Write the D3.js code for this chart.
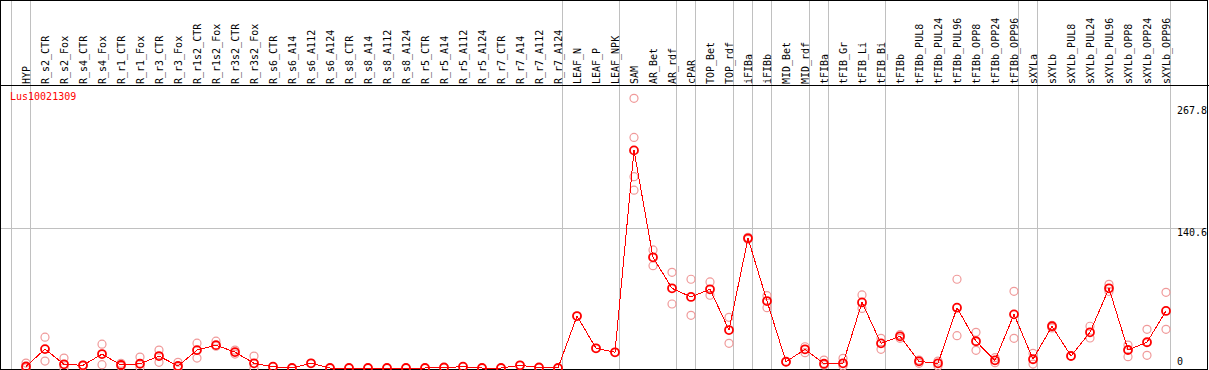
<!DOCTYPE html>
<html>
<head>
<meta charset="UTF-8">
<title></title>
<script src="https://cdn.jsdelivr.net/npm/d3@7"></script>
<style>
    body { margin: 0; background: #fff; }
    text { font-family: "DejaVu Sans Mono", monospace; font-size: 10px; }
</style>
</head>
<body>
<div id="chart"></div>
<script>
    var geneName = 'Lus10021309';

    var samples = ['HYP', 'R_s2_CTR', 'R_s2_Fox', 'R_s4_CTR', 'R_s4_Fox', 'R_r1_CTR', 'R_r1_Fox',
        'R_r3_CTR', 'R_r3_Fox', 'R_r1s2_CTR', 'R_r1s2_Fox', 'R_r3s2_CTR', 'R_r3s2_Fox', 'R_s6_CTR',
        'R_s6_A14', 'R_s6_A112', 'R_s6_A124', 'R_s8_CTR', 'R_s8_A14', 'R_s8_A112', 'R_s8_A124',
        'R_r5_CTR', 'R_r5_A14', 'R_r5_A112', 'R_r5_A124', 'R_r7_CTR', 'R_r7_A14', 'R_r7_A112',
        'R_r7_A124', 'LEAF_N', 'LEAF_P', 'LEAF_NPK', 'SAM', 'AR_Bet', 'AR_rdf', 'cPAR', 'TOP_Bet',
        'TOP_rdf', 'iFIBa', 'iFIBb', 'MID_Bet', 'MID_rdf', 'tFIBa', 'tFIB_Gr', 'tFIB_Li', 'tFIB_Bi',
        'tFIBb', 'tFIBb_PUL8', 'tFIBb_PUL24', 'tFIBb_PUL96', 'tFIBb_OPP8', 'tFIBb_OPP24', 'tFIBb_OPP96',
        'sXYLa', 'sXYLb', 'sXYLb_PUL8', 'sXYLb_PUL24', 'sXYLb_PUL96', 'sXYLb_OPP8', 'sXYLb_OPP24', 'sXYLb_OPP96'];

    // mean expression per sample
    var means = [1.5, 19, 3.7, 2.7, 14, 3, 4.3, 12, 2, 18, 23, 16, 4.7, 1.3,
        0, 4.7, 0, 0, 0, 0, 0, 0, 0.5, 1.3, 0, 0, 2.7, 0.5, 0,
        52.3, 19.8, 15.8, 219, 111.4, 80.2, 71.5, 79.2, 38.2, 130.5, 67.4, 6.3, 18.8,
        4.3, 4.7, 66, 24.8, 31.9, 6.7, 4.7, 60.7, 26.9, 7.7, 54,
        8.8, 42, 12.1, 35.9, 80.2, 18.1, 25.9, 57.4];

    // individual replicates per sample
    var replicates = [[5, 0], [31, 7], [10, 0], [3, 2], [24, 3.3], [4.7, 1.5], [11, 0.5],
        [18, 5.7], [5.7, 0], [25, 10], [27, 22], [18, 14], [12, 0], [1.3],
        [0], [4.7], [0], [0], [0], [0], [0], [0], [0.5], [1.3], [0], [0], [2.7], [0.5], [0],
        [52.3], [19.8], [15.8], [271.4, 232, 192.5, 179], [118.8, 103], [96.3, 64.4], [89.3, 53],
        [86.6, 73.2], [51, 24.8], [131.5, 129.5], [72.8, 60.7], [6.3], [21.4, 15.4],
        [8, 3], [9.7, 2], [73.5, 60], [29.9, 18.8], [29.9, 33.5], [4.7, 8], [7, 2], [89.3, 32.5],
        [35.9, 17.8], [10.4, 5.4], [77.2, 29.9], [14.8, 4], [40.3, 43], [12.1], [42, 30.2],
        [84.2, 77], [23.1, 11.4], [38.9, 12.8], [76.2, 38.9]];

    // first sample of each tissue group (separator lines)
    var groupStarts = ['HYP', 'R_s2_CTR', 'LEAF_N', 'SAM', 'cPAR', 'TOP_Bet', 'iFIBa', 'iFIBb',
        'MID_Bet', 'tFIBa', 'tFIB_Gr', 'tFIBb', 'sXYLa', 'sXYLb'];

    var yLabels = [0, 140.6, 267.8];
    var yGrid = [140.6];

    var width = 1209, height = 370;
    var headerBottom = 85, plotBottom = 368;

    var svg = d3.select('#chart').append('svg')
        .attr('width', width)
        .attr('height', height);

    var x = d3.scaleBand()
        .domain(samples)
        .range([11, 11 + 19 * samples.length]);
    var px = function (s) { return x(s) + 15; };

    var y = d3.scaleLinear()
        .domain([0, 284.8])
        .range([plotBottom, headerBottom]);

    // horizontal grid
    svg.selectAll('.hgrid')
        .data(yGrid)
        .enter()
        .append('line')
        .attr('x1', 0).attr('x2', width - 1)
        .attr('y1', function (d) { return Math.round(y(d)) + 0.5; })
        .attr('y2', function (d) { return Math.round(y(d)) + 0.5; })
        .style('stroke', '#c0c0c0');

    // group separators
    var seps = groupStarts.map(function (s) { return x(s); });
    seps.push(x.range()[1]);
    svg.selectAll('.vsep')
        .data(seps)
        .enter()
        .append('line')
        .attr('x1', function (d) { return Math.round(d) + 0.5; })
        .attr('x2', function (d) { return Math.round(d) + 0.5; })
        .attr('y1', 0).attr('y2', height)
        .style('stroke', '#c0c0c0');

    // frame
    svg.append('rect')
        .attr('x', 0.5).attr('y', 0.5)
        .attr('width', width - 2).attr('height', height - 1)
        .style('fill', 'none').style('stroke', '#000');
    svg.append('line')
        .attr('x1', 0).attr('x2', width)
        .attr('y1', headerBottom + 0.5).attr('y2', headerBottom + 0.5)
        .style('stroke', '#000');

    // sample labels
    svg.selectAll('.slabel')
        .data(samples)
        .enter()
        .append('text')
        .attr('transform', function (d) {
            return 'translate(' + (px(d) + 3.5) + ',' + (headerBottom - 1) + ') rotate(-90)';
        })
        .text(function (d) { return d; })
        .style('fill', '#000');

    // y labels
    svg.selectAll('.ylabel')
        .data(yLabels)
        .enter()
        .append('text')
        .attr('x', 1177)
        .attr('y', function (d) {
            return Math.max(Math.min(y(d) + 8, plotBottom - 3), headerBottom + 29);
        })
        .text(function (d) { return d; })
        .style('fill', '#000');

    svg.append('text')
        .attr('x', 10).attr('y', 100)
        .text(geneName)
        .style('fill', 'red');

    // replicates
    var repPts = [];
    replicates.forEach(function (r, i) {
        r.forEach(function (v) { repPts.push({s: samples[i], v: v}); });
    });
    svg.selectAll('.rep')
        .data(repPts)
        .enter()
        .append('circle')
        .attr('cx', function (d) { return px(d.s); })
        .attr('cy', function (d) { return y(d.v); })
        .attr('r', 4)
        .style('fill', 'none')
        .style('stroke', '#f09a9a')
        .style('stroke-width', 1.2);

    // mean line
    var line = d3.line()
        .x(function (d, i) { return px(samples[i]); })
        .y(function (d) { return y(d); });
    svg.append('path')
        .datum(means)
        .attr('d', line)
        .style('fill', 'none')
        .style('stroke', 'red')
        .style('stroke-width', 1)
        .style('shape-rendering', 'crispEdges');

    svg.selectAll('.mean')
        .data(means)
        .enter()
        .append('circle')
        .attr('cx', function (d, i) { return px(samples[i]); })
        .attr('cy', function (d) { return y(d); })
        .attr('r', 4)
        .style('fill', 'none')
        .style('stroke', 'red')
        .style('stroke-width', 1.8);
</script>
</body>
</html>
